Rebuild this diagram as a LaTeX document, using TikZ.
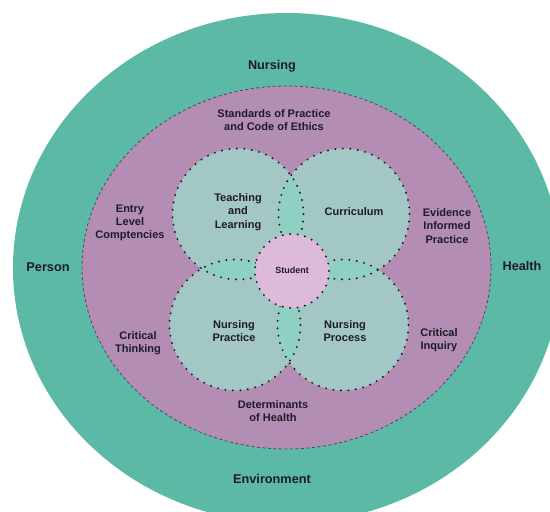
\documentclass[tikz,border=0pt]{standalone}
\usepackage{fontspec}
\setmainfont{Liberation Sans}
\usepackage{xcolor}
\definecolor{outergreen}{HTML}{5CB9A6}
\definecolor{ringpurple}{HTML}{B38DB4}
\definecolor{petalfill}{HTML}{A3C7C5}
\definecolor{lensfill}{HTML}{8ED0C1}
\definecolor{studentpink}{HTML}{DDBAD8}
\definecolor{labeltext}{HTML}{1E1B28}
\definecolor{ringborder}{HTML}{4A4A5C}

\tikzset{
  ringline/.style={draw=ringborder, line width=0.8pt, dash pattern=on 3pt off 2.5pt},
  petalline/.style={draw=labeltext, line width=2.2pt, dash pattern=on 0pt off 7.5pt, line cap=round},
  outerlabel/.style={font=\bfseries\fontsize{12.7}{15}\selectfont, text=labeltext, align=center},
  ringlabel/.style={font=\bfseries\fontsize{11}{13.3}\selectfont, text=labeltext, align=center},
  studentlabel/.style={font=\bfseries\fontsize{9}{11}\selectfont, text=labeltext, align=center}
}

\begin{document}
\begin{tikzpicture}[x=1pt, y=-1pt]
\pgfmathsetmacro{\outerxradius}{274}
\pgfmathsetmacro{\outeryradius}{255}
\pgfmathsetmacro{\ringxradius}{204.5}
\pgfmathsetmacro{\ringyradius}{181.5}
\pgfmathsetmacro{\petalradius}{65.5}
\pgfmathsetmacro{\studentradius}{37}

\useasboundingbox (0,0) rectangle (550,512);

\coordinate (outer_centre) at (287, 268);
\coordinate (ring_centre) at (286.5, 267.5);
\coordinate (teach_centre) at (238, 214);
\coordinate (curric_centre) at (344, 214);
\coordinate (practice_centre) at (235, 325);
\coordinate (process_centre) at (343, 325);
\coordinate (student_centre) at (292, 271);

\fill [outergreen] (outer_centre) ellipse [x radius=\outerxradius, y radius=\outeryradius];
\draw [ringline, fill=ringpurple] (ring_centre) ellipse [x radius=\ringxradius, y radius=\ringyradius];

\foreach \petal in {teach, curric, practice, process}
  \fill [petalfill] (\petal_centre) circle [radius=\petalradius];
% overlaps of neighbouring petals
\foreach \first/\second in {teach/curric, curric/process, process/practice, practice/teach}
{
  \begin{scope}
    \clip (\first_centre) circle [radius=\petalradius];
    \fill [lensfill] (\second_centre) circle [radius=\petalradius];
  \end{scope}
}
\foreach \petal in {teach, curric, practice, process}
  \draw [petalline] (\petal_centre) circle [radius=\petalradius];
\draw [petalline, fill=studentpink] (student_centre) circle [radius=\studentradius];

\node [outerlabel] (nursing_label) at (272, 66) {Nursing};
\node [outerlabel] (person_label) at (48, 267) {Person};
\node [outerlabel] (health_label) at (522, 266) {Health};
\node [outerlabel] (environment_label) at (272, 479) {Environment};

\node [ringlabel] (standards_label) at (274, 120) {Standards of Practice\\and Code of Ethics};
\node [ringlabel] (entry_label) at (130, 223) {Entry\\Level\\Comptencies};
\node [ringlabel] (thinking_label) at (138, 343) {Critical\\Thinking};
\node [ringlabel] (evidence_label) at (447, 226) {Evidence\\Informed\\Practice};
\node [ringlabel] (inquiry_label) at (439, 340) {Critical\\Inquiry};
\node [ringlabel] (determinants_label) at (273, 411) {Determinants\\of Health};

\node [ringlabel] (teach_label) at (238, 212) {Teaching\\and\\Learning};
\node [ringlabel] (curric_label) at (354, 212) {Curriculum};
\node [ringlabel] (practice_label) at (234, 331) {Nursing\\Practice};
\node [ringlabel] (process_label) at (345, 331) {Nursing\\Process};
\node [studentlabel] (student_label) at (292, 270) {Student};
\end{tikzpicture}
\end{document}
